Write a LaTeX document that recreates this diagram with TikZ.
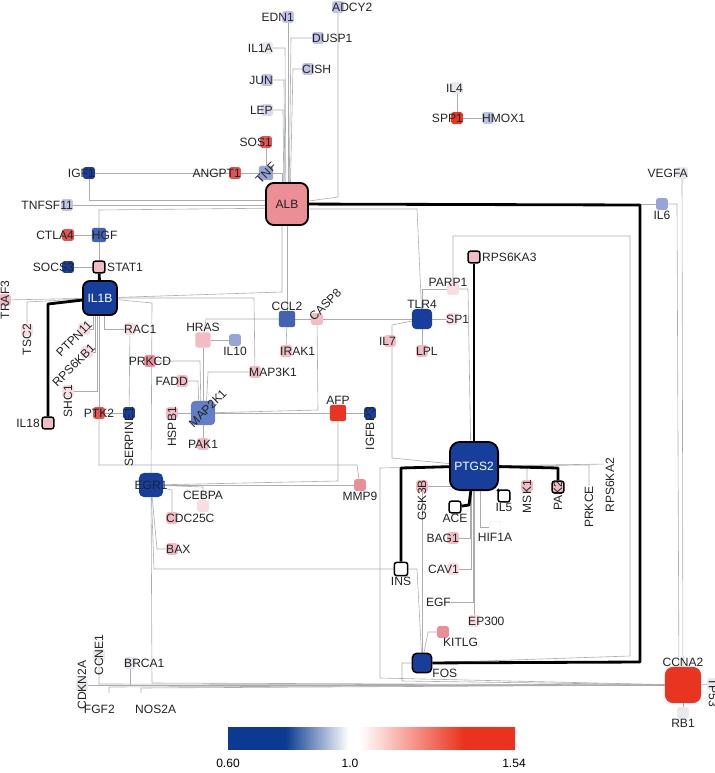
\documentclass[tikz,border=0pt]{standalone}
\usepackage{fontspec}
\setmainfont{Liberation Sans}
\usepackage{xcolor}
\pgfdeclarelayer{edges}
\pgfsetlayers{edges,main}

\definecolor{edgegray}{RGB}{172,172,172}
\definecolor{labtext}{RGB}{35,35,35}
\definecolor{dblue}{RGB}{24,62,155}
\definecolor{mblue}{RGB}{68,98,180}
\definecolor{sblue}{RGB}{98,126,198}
\definecolor{lblue}{RGB}{150,165,215}
\definecolor{vlblue}{RGB}{192,196,228}
\definecolor{xlblue}{RGB}{216,217,236}
\definecolor{offwhite}{RGB}{232,232,238}
\definecolor{xlpink}{RGB}{248,222,226}
\definecolor{lpink}{RGB}{242,188,196}
\definecolor{mpink}{RGB}{236,142,150}
\definecolor{redc}{RGB}{226,82,82}
\definecolor{dred}{RGB}{232,52,32}
\definecolor{barblue}{RGB}{12,58,145}
\definecolor{barred}{RGB}{235,50,30}
\colorlet{barpink}{barred!22!white}

\pgfdeclarehorizontalshading{ratiobar}{100bp}{color(0bp)=(barblue); color(25bp)=(barblue); color(35bp)=(barblue); color(46bp)=(white); color(48bp)=(white); color(52bp)=(barpink); color(66bp)=(barred); color(100bp)=(barred)}

\begin{document}
\begin{tikzpicture}[
    x=0.035cm,
    y=-0.035cm,
    font=\fontsize{12}{14}\selectfont,
    gene/.style={
        rectangle,
        rounded corners=2pt,
        minimum size=11.5pt,
        inner sep=0pt,
        fill=#1
    },
    ring/.style={draw=black, line width=1.5pt},
    hub/.style={
        rectangle,
        rounded corners=7pt,
        inner sep=0pt,
        fill=#1,
        draw=black,
        line width=1.8pt
    },
    every label/.style={inner sep=0pt, text=labtext},
    txtL/.style={label={[anchor=east]east:#1}},
    txtR/.style={label={[anchor=west]west:#1}},
    outL/.style={label={[anchor=east,inner sep=1.5pt]west:#1}},
    outR/.style={label={[anchor=west,inner sep=1.5pt]east:#1}},
    txtA/.style={label={[anchor=south]north:#1}},
    txtB/.style={label={[anchor=north,inner sep=0.5pt]south:#1}},
    txtC/.style={label={[anchor=center]center:#1}},
    rotUp/.style={label={[rotate=90,anchor=east]north:#1}},
    rotRise/.style={label={[rotate=90,anchor=west]center:#1}},
    rotDown/.style={label={[rotate=-90,anchor=west]north:#1}},
    slant/.style={label={[rotate=45,anchor=west]center:#1}},
    slantL/.style={label={[rotate=45,anchor=east]north east:#1}},
    edge/.style={draw=edgegray, line width=0.6pt},
    strong/.style={draw=black, line width=2.8pt, line join=round}
]
\useasboundingbox (0,0) rectangle (714,773);

% ---------------- ALB NEIGHBOURHOOD ----------------
\node[gene=vlblue, txtL=EDN1] (EDN1) at (288,17) {};
\node[gene=vlblue, txtR=ADCY2] (ADCY2) at (338,7) {};
\node[gene=vlblue, txtR=DUSP1] (DUSP1) at (318,38) {};
\node[gene=offwhite, txtL=IL1A] (IL1A) at (267,48) {};
\node[gene=vlblue, txtR=CISH] (CISH) at (308,69) {};
\node[gene=vlblue, txtL=JUN] (JUN) at (267,80) {};
\node[gene=xlblue, txtL=LEP] (LEP) at (267,110) {};
\node[gene=redc, txtL=SOS1] (SOS1) at (266,142) {};
\node[gene=lblue, minimum size=14pt, slant=TNF] (TNF) at (266,173) {};
\node[gene=redc, txtL=ANGPT1] (ANGPT1) at (235,173) {};
\node[gene=dblue, txtL=IGF1] (IGF1) at (89,173) {};
\node[hub=mpink, minimum size=42pt, rounded corners=8pt, text=labtext] (ALB) at (287,204) {ALB};

% ---------------- SPP1 ----------------
\node[gene=offwhite, txtL=IL4] (IL4) at (457,88) {};
\node[gene=dred, txtL=SPP1] (SPP1) at (457,118) {};
\node[gene=vlblue, txtR=HMOX1] (HMOX1) at (488,118) {};

% ---------------- IL1B ----------------
\node[gene=vlblue, txtL=TNFSF11] (TNFSF11) at (67,205) {};
\node[gene=redc, txtL=CTLA4] (CTLA4) at (68,235) {};
\node[gene=mblue, minimum size=14pt, txtR=HGF] (HGF) at (99,235) {};
\node[gene=dblue, txtL=SOCS3] (SOCS3) at (68,267) {};
\node[gene=lpink, ring, outR=STAT1] (STAT1) at (99,267) {};
\node[hub=dblue, minimum size=34pt, text=white] (IL1B) at (100,298) {IL1B};
\node[gene=lpink, rotRise=TRAF3] (TRAF3) at (5,300) {};
\node[gene=xlpink, rotUp=TSC2] (TSC2) at (27,330) {};
\node[gene=xlpink, slantL=PTPN11] (PTPN11) at (84,329) {};
\node[gene=xlpink, slantL=RPS6KB1] (RPS6KB1) at (87,352) {};
\node[gene=xlpink, rotUp=SHC1] (SHC1) at (68,391) {};
\node[gene=lpink, ring, outL=IL18] (IL18) at (48,423) {};
\node[gene=redc, txtC=PTK2] (PTK2) at (99,413) {};
\node[gene=dblue, rotUp=SERPINE1] (SERPINE1) at (129,413) {};
\node[gene=xlpink, txtR=RAC1] (RAC1) at (130,329) {};

% ---------------- MAP2K1 ----------------
\node[gene=mpink, txtC=PRKCD] (PRKCD) at (150,361) {};
\node[gene=lpink, minimum size=15pt, txtA=HRAS] (HRAS) at (203,340) {};
\node[gene=lblue, txtB=IL10] (IL10) at (235,340) {};
\node[gene=lpink, txtL=FADD] (FADD) at (182,381) {};
\node[gene=sblue, minimum size=24pt, rounded corners=4pt,
      label={[rotate=45,anchor=west]south west:MAP2K1}] (MAP2K1) at (203,413) {};
\node[gene=lpink, rotUp=HSPB1] (HSPB1) at (172,413) {};
\node[gene=lpink, txtC=PAK1] (PAK1) at (203,444) {};
\node[gene=lpink, txtR=MAP3K1] (MAP3K1) at (255,372) {};

% ---------------- CCL2 / TLR4 ----------------
\node[gene=mblue, minimum size=16pt, txtA=CCL2] (CCL2) at (287,319) {};
\node[gene=lpink, label={[rotate=45,anchor=west]west:CASP8}] (CASP8) at (317,319) {};
\node[gene=lpink, txtR=IRAK1] (IRAK1) at (286,351) {};
\node[gene=dred, minimum size=16pt, txtA=AFP] (AFP) at (338,413) {};
\node[gene=dblue, rotUp=IGFBP3] (IGFBP3) at (370,413) {};
\node[gene=dblue, minimum size=20pt, rounded corners=4pt, txtA=TLR4] (TLR4) at (422,319) {};
\node[gene=xlpink, txtR=SP1] (SP1) at (452,319) {};
\node[gene=lpink, txtR=LPL] (LPL) at (422,351) {};
\node[gene=lpink, txtL=IL7] (IL7) at (390,341) {};
\node[gene=xlpink, label={[anchor=south,xshift=-5pt,yshift=-4pt]north:PARP1}] (PARP1) at (453,289) {};
\node[gene=lpink, ring, outR=RPS6KA3] (RPS6KA3) at (474,257) {};
\node[gene=lblue, txtB=IL6] (IL6) at (662,204) {};
\node[gene=offwhite, txtL=VEGFA] (VEGFA) at (682,173) {};

% ---------------- EGR1 ----------------
\node[gene=dblue, minimum size=24pt, rounded corners=5pt, txtC=EGR1] (EGR1) at (151,485) {};
\node[gene=xlpink, txtA=CEBPA] (CEBPA) at (203,506) {};
\node[gene=lpink, txtR=CDC25C] (CDC25C) at (172,518) {};
\node[gene=lpink, txtR=BAX] (BAX) at (172,549) {};
\node[gene=mpink, txtB=MMP9] (MMP9) at (360,485) {};

% ---------------- PTGS2 ----------------
\node[hub=dblue, minimum size=48pt, rounded corners=10pt, text=white] (PTGS2) at (474,466) {PTGS2};
\node[gene=white, ring, minimum size=13pt, txtB=INS] (INS) at (401,569) {};
\node[gene=lpink, rotUp=GSK3B] (GSK3B) at (422,486) {};
\node[gene=white, ring, txtB=ACE] (ACE) at (455,507) {};
\node[gene=white, ring, txtB=IL5] (IL5) at (504,496) {};
\node[gene=lpink, rotUp=MSK1] (MSK1) at (527,486) {};
\node[gene=lpink, ring, rotUp=PAK2] (PAK2) at (558,487) {};
\node[gene=white, rotUp=PRKCE] (PRKCE) at (589,492) {};
\node[gene=white, rotUp=RPS6KA2] (RPS6KA2) at (610,464) {};
\node[gene=lpink, txtL=BAG1] (BAG1) at (453,538) {};
\node[gene=white, draw=offwhite, txtB=HIF1A] (HIF1A) at (495,527) {};
\node[gene=xlpink, txtL=CAV1] (CAV1) at (453,569) {};
\node[gene=white, txtL=EGF] (EGF) at (445,602) {};
\node[gene=xlpink, txtR=EP300] (EP300) at (474,621) {};
\node[gene=mpink, label={[anchor=north west]south:KITLG}] (KITLG) at (443,632) {};
\node[gene=dblue, ring, minimum size=19pt, rounded corners=4pt,
      label={[anchor=west]south east:FOS}] (FOS) at (422,663) {};

% ---------------- CCNA2 ----------------
\node[gene=dred, minimum size=36pt, rounded corners=8pt, txtA=CCNA2] (CCNA2) at (683,685) {};
\node[gene=offwhite, txtB=RB1] (RB1) at (683,713) {};
\node[gene=offwhite, rotDown=TP53] (TP53) at (713,684) {};
\node[gene=offwhite, rotRise=CDKN2A] (CDKN2A) at (82,685) {};
\node[gene=offwhite, rotRise=CCNE1] (CCNE1) at (99,655) {};
\node[gene=offwhite, txtR=BRCA1] (BRCA1) at (130,663) {};
\node[gene=white, label={[anchor=north east]south east:FGF2}] (FGF2) at (109,699) {};
\node[gene=white, label={[anchor=north west]south west:NOS2A}] (NOS2A) at (141,699) {};

% ---------------- SCALE ----------------
\shade[shading=ratiobar] (228,727) rectangle (515,749);
\node (lowval) at (228,763) {0.60};
\node (midval) at (350,763) {1.0};
\node (highval) at (514,763) {1.54};

% ---------------- CONNECTORS ----------------
\begin{pgfonlayer}{edges}
% into ALB
\draw[edge] (EDN1) -- (288,204);
\draw[edge] (IL1A) -- (285,48) -- (286,204);
\draw[edge] (JUN) -- (284,80) -- (285,204);
\draw[edge] (LEP) -- (283,110) -- (284,204);
\draw[edge] (DUSP1) -- (291,38) -- (289,204);
\draw[edge] (CISH) -- (293,69) -- (290,204);
\draw[edge] (ADCY2) -- (338,197) -- (ALB);
\draw[edge] (TNF) -- (282,173) -- (282,204);
\draw[edge] (SOS1) -- (TNF);
\draw[edge] (ANGPT1) -- (TNF);
\draw[edge] (IGF1) -- (ANGPT1);
\draw[edge] (IGF1) -- (89,200) -- (287,200);
\draw[edge] (TNFSF11) -- (287,205);
\draw[edge] (HGF) -- (99,210) -- (287,208);
\draw[edge] (CTLA4) -- (HGF);
\draw[edge] (SOCS3) -- (STAT1);
\draw[edge] (HGF) -- (STAT1);
\draw[edge] (287,209) -- (417,209) -- (TLR4);
\draw[edge] (ALB) -- (IL6);
\draw[edge] (ALB) -- (CCL2);
\draw[edge] (IL1B) -- (282,292) -- (282,204);
% SPP1
\draw[edge] (IL4) -- (SPP1);
\draw[edge] (SPP1) -- (HMOX1);
% IL1B
\draw[edge] (TRAF3) -- (IL1B);
\draw[edge] (TSC2) -- (27,302) -- (IL1B);
\draw[edge] (PTPN11) -- (93,329) -- (93,298);
\draw[edge] (RPS6KB1) -- (95,352) -- (95,298);
\draw[edge] (SHC1) -- (97,391) -- (97,298);
\draw[edge] (PTK2) -- (99,298);
\draw[edge] (RAC1) -- (104,329) -- (104,298);
\draw[edge] (RAC1) -- (SERPINE1);
\draw[edge] (PTK2) -- (SERPINE1);
\draw[edge] (PTK2) -- (99,465) -- (357,465) -- (MMP9);
\draw[edge] (IL1B) -- (254,298) -- (MAP3K1);
\draw[edge] (IL1B) -- (152,303) -- (EGR1);
% MAP2K1
\draw[edge] (PRKCD) -- (200,361) -- (201,413);
\draw[edge] (FADD) -- (198,381) -- (199,413);
\draw[edge] (HRAS) -- (MAP2K1);
\draw[edge] (HRAS) -- (IL10);
\draw[edge] (HRAS) -- (206,319) -- (CCL2);
\draw[edge] (MAP3K1) -- (208,372) -- (206,413);
\draw[edge] (HSPB1) -- (MAP2K1);
\draw[edge] (PAK1) -- (MAP2K1);
\draw[edge] (MAP2K1) -- (AFP);
\draw[edge] (CASP8) -- (318,410) -- (MAP2K1);
\draw[edge] (AFP) -- (IGFBP3);
\draw[edge] (AFP) -- (338,481) -- (EGR1);
% CCL2 / TLR4
\draw[edge] (CCL2) -- (TLR4);
\draw[edge] (CCL2) -- (IRAK1);
\draw[edge] (TLR4) -- (SP1);
\draw[edge] (TLR4) -- (LPL);
\draw[edge] (TLR4) -- (392,325) -- (392,458) -- (PTGS2);
\draw[edge] (PARP1) -- (422,289) -- (TLR4);
\draw[edge] (PARP1) -- (468,289) -- (471,466);
\draw[edge] (PARP1) -- (453,236) -- (630,236) -- (630,656) -- (FOS);
% EGR1
\draw[edge] (EGR1) -- (MMP9);
\draw[edge] (EGR1) -- (203,487) -- (CEBPA);
\draw[edge] (EGR1) -- (172,490) -- (CDC25C);
\draw[edge] (EGR1) -- (157,549) -- (BAX);
\draw[edge] (EGR1) -- (154,569) -- (INS);
\draw[edge] (EGR1) -- (152,683) -- (CCNA2);
% PTGS2
\draw[edge] (GSK3B) -- (474,486);
\draw[edge] (GSK3B) -- (FOS);
\draw[edge] (BAG1) -- (470,538) -- (470,466);
\draw[edge] (CAV1) -- (471,569) -- (471,466);
\draw[edge] (EGF) -- (473,602) -- (473,466);
\draw[edge] (EP300) -- (PTGS2);
\draw[edge] (HIF1A) -- (480,527) -- (480,466);
\draw[edge] (MSK1) -- (527,468) -- (PTGS2);
\draw[edge] (PRKCE) -- (589,465) -- (PTGS2);
\draw[edge] (RPS6KA2) -- (PTGS2);
\draw[edge] (PTGS2) -- (380,468) -- (380,678) -- (CCNA2);
\draw[edge] (INS) -- (417,569) -- (FOS);
\draw[edge] (KITLG) -- (428,632) -- (FOS);
\draw[edge] (FOS) -- (402,663) -- (402,681) -- (CCNA2);
% CCNA2
\draw[edge] (IL6) -- (677,204) -- (679,685);
\draw[edge] (VEGFA) -- (CCNA2);
\draw[edge] (CDKN2A) -- (CCNA2);
\draw[edge] (CCNE1) -- (99,684) -- (CCNA2);
\draw[edge] (BRCA1) -- (130,685) -- (CCNA2);
\draw[edge] (FGF2) -- (109,687) -- (CCNA2);
\draw[edge] (NOS2A) -- (141,688) -- (CCNA2);
\draw[edge] (CCNA2) -- (RB1);
\draw[edge] (CCNA2) -- (TP53);
% strong links
\draw[strong] (STAT1) -- (IL1B);
\draw[strong] (IL18) -- (48,304) -- (IL1B);
\draw[strong] (ALB) -- (640,205) -- (640,662) -- (FOS);
\draw[strong] (RPS6KA3) -- (PTGS2);
\draw[strong] (PTGS2) -- (401,468) -- (INS);
\draw[strong] (PTGS2) -- (469,505) -- (ACE);
\draw[strong] (PTGS2) -- (IL5);
\draw[strong] (PTGS2) -- (558,468) -- (PAK2);
\end{pgfonlayer}

\end{tikzpicture}
\end{document}
